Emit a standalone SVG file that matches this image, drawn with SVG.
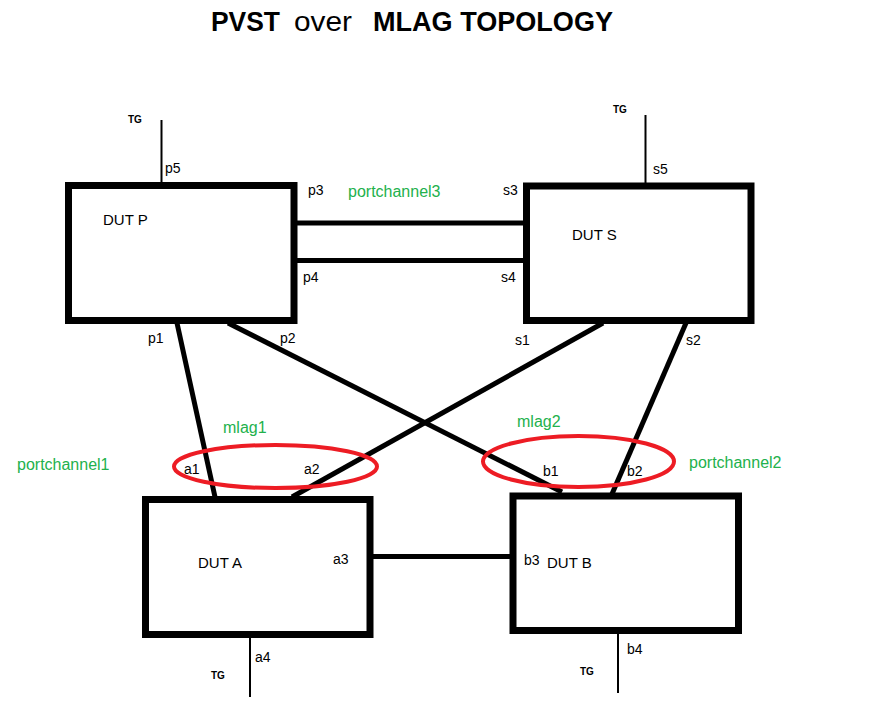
<svg xmlns="http://www.w3.org/2000/svg" width="892" height="725" viewBox="0 0 892 725">
<style>
.box{fill:none;stroke:#000;stroke-width:7}
.lk{stroke:#000;stroke-width:5;fill:none}
.tg{stroke:#000;stroke-width:2;fill:none}
.ml{fill:none;stroke:#ED1C24;stroke-width:4}
text{font-family:"Liberation Sans",Arial,sans-serif}
.lb{font-size:14px;fill:#000}
.nm{font-size:15px;fill:#000}
.gr{font-size:16px;fill:#22B14C}
.tgt{font-size:10px;font-weight:bold;fill:#000}
.ti{font-size:27px;fill:#000}
</style>
<rect width="892" height="725" fill="#fff"/>
<g id="title">
<text class="ti" x="211" y="31" font-weight="bold" textLength="69" lengthAdjust="spacingAndGlyphs">PVST</text>
<text class="ti" x="294" y="31" textLength="58" lengthAdjust="spacingAndGlyphs">over</text>
<text class="ti" x="373" y="31" font-weight="bold" textLength="240" lengthAdjust="spacingAndGlyphs">MLAG TOPOLOGY</text>
</g>
<g id="connectors">
<line class="lk" x1="297" y1="223" x2="523" y2="223" stroke-width="7"/>
<line class="lk" x1="297" y1="260.5" x2="523" y2="260.5" stroke-width="7"/>
<line class="lk" x1="177" y1="323" x2="215" y2="497"/>
<line class="lk" x1="228" y1="323" x2="562" y2="492"/>
<line class="lk" x1="603" y1="323" x2="292" y2="497"/>
<line class="lk" x1="686" y1="323" x2="612" y2="494"/>
<line class="lk" x1="373" y1="556.5" x2="510" y2="556.5"/>
<line class="tg" x1="161.5" y1="120" x2="161.5" y2="185"/>
<line class="tg" x1="645.5" y1="115" x2="645.5" y2="186"/>
<line class="tg" x1="250" y1="638" x2="250" y2="697"/>
<line class="tg" x1="618" y1="634" x2="618" y2="693"/>
</g>
<g id="dut-p">
<rect class="box" x="68.5" y="185.5" width="225.5" height="135"/>
<text class="nm" x="103" y="225">DUT P</text>
</g>
<g id="dut-s">
<rect class="box" x="526.5" y="186" width="224.5" height="134.5"/>
<text class="nm" x="572" y="240">DUT S</text>
</g>
<g id="dut-a">
<rect class="box" x="145.5" y="499.5" width="224.5" height="135"/>
<text class="nm" x="198" y="568">DUT A</text>
</g>
<g id="dut-b">
<rect class="box" x="513" y="496" width="225.5" height="134.5"/>
<text class="nm" x="547" y="568">DUT B</text>
</g>
<g id="mlag1">
<ellipse class="ml" cx="275.5" cy="466.5" rx="101.5" ry="21.5"/>
<text class="gr" x="223" y="433">mlag1</text>
<text class="gr" x="17" y="470">portchannel1</text>
</g>
<g id="mlag2">
<ellipse class="ml" cx="578.5" cy="461.5" rx="95.5" ry="25.5"/>
<text class="gr" x="517" y="427">mlag2</text>
<text class="gr" x="689" y="468">portchannel2</text>
</g>
<g id="portchannel3">
<text class="gr" x="348" y="197">portchannel3</text>
</g>
<g id="port-labels">
<text class="lb" x="165" y="173">p5</text>
<text class="lb" x="308" y="195">p3</text>
<text class="lb" x="303" y="282">p4</text>
<text class="lb" x="148" y="343">p1</text>
<text class="lb" x="280" y="343">p2</text>
<text class="lb" x="653" y="174">s5</text>
<text class="lb" x="503" y="195">s3</text>
<text class="lb" x="501" y="282">s4</text>
<text class="lb" x="515" y="345">s1</text>
<text class="lb" x="686" y="345">s2</text>
<text class="lb" x="184" y="474">a1</text>
<text class="lb" x="304" y="474">a2</text>
<text class="lb" x="333" y="564">a3</text>
<text class="lb" x="255" y="662">a4</text>
<text class="lb" x="543" y="476">b1</text>
<text class="lb" x="627" y="476">b2</text>
<text class="lb" x="524" y="565">b3</text>
<text class="lb" x="627" y="654">b4</text>
</g>
<g id="tg-labels">
<text class="tgt" x="128" y="123">TG</text>
<text class="tgt" x="613" y="113">TG</text>
<text class="tgt" x="211" y="679">TG</text>
<text class="tgt" x="580" y="675">TG</text>
</g>
</svg>
